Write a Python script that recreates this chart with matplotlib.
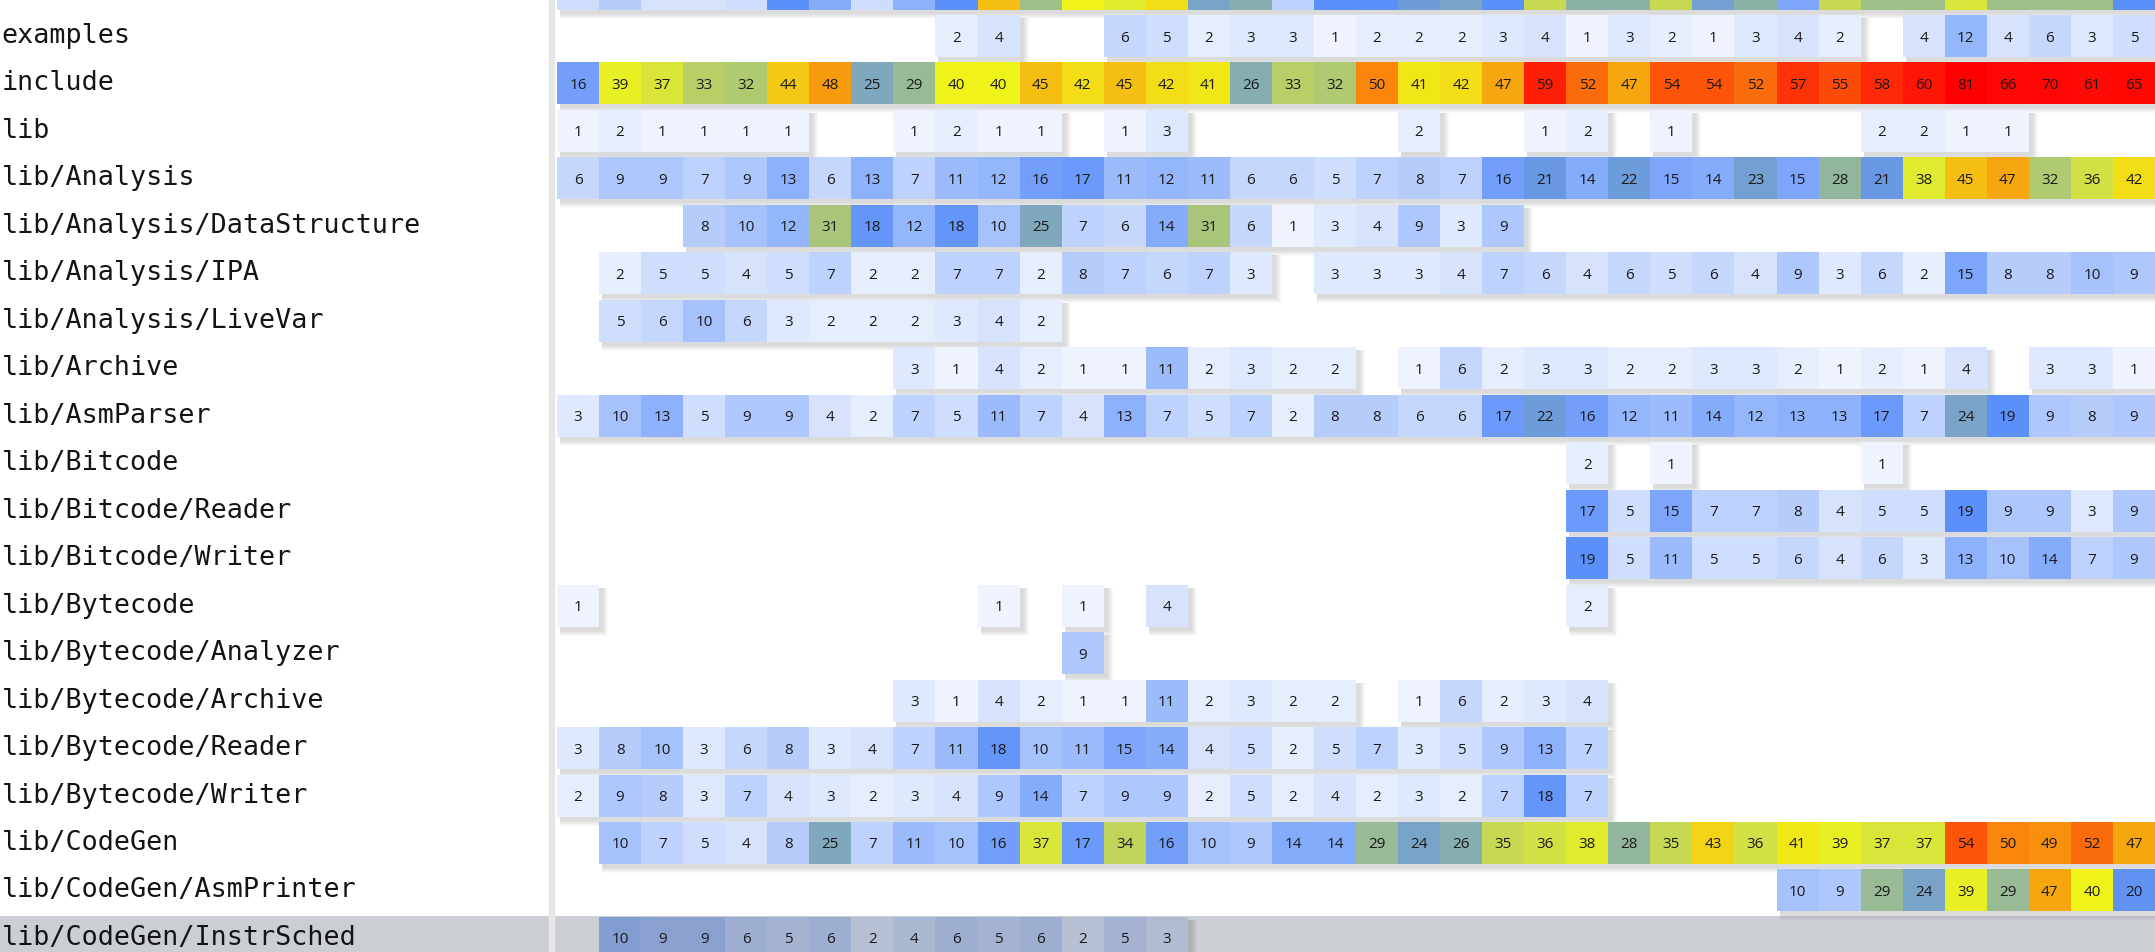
import matplotlib
matplotlib.use('Agg')
import matplotlib.pyplot as plt
from matplotlib.colors import LinearSegmentedColormap, Normalize, to_rgb

N = None

# row names, top to bottom
dirs = ['examples', 'include', 'lib', 'lib/Analysis',
        'lib/Analysis/DataStructure', 'lib/Analysis/IPA',
        'lib/Analysis/LiveVar', 'lib/Archive', 'lib/AsmParser',
        'lib/Bitcode', 'lib/Bitcode/Reader', 'lib/Bitcode/Writer',
        'lib/Bytecode', 'lib/Bytecode/Analyzer', 'lib/Bytecode/Archive',
        'lib/Bytecode/Reader', 'lib/Bytecode/Writer', 'lib/CodeGen',
        'lib/CodeGen/AsmPrinter', 'lib/CodeGen/InstrSched']

# row above "examples": only its lower edge is in view, values guessed from colour
top_cut = [5, 8, 4, 4, 5, 19, 14, 5, 13, 19, 45, 30, 40, 38, 42, 24, 26, 7, 19,
           19, 22, 24, 19, 35, 27, 27, 35, 23, 27, 15, 35, 30, 30, 37, 30, 30, 30, 19]

examples = [N] * 9 + [2, 4, N, N, 6, 5, 2, 3, 3, 1, 2, 2, 2, 3, 4, 1, 3, 2, 1, 3,
                      4, 2, N, 4, 12, 4, 6, 3, 5]
include = [16, 39, 37, 33, 32, 44, 48, 25, 29, 40, 40, 45, 42, 45, 42, 41, 26, 33, 32,
           50, 41, 42, 47, 59, 52, 47, 54, 54, 52, 57, 55, 58, 60, 81, 66, 70, 61, 65]
lib = [1, 2, 1, 1, 1, 1, N, N, 1, 2, 1, 1, N, 1, 3, N, N, N, N,
       N, 2, N, N, 1, 2, N, 1, N, N, N, N, 2, 2, 1, 1, N, N, N]
lib_analysis = [6, 9, 9, 7, 9, 13, 6, 13, 7, 11, 12, 16, 17, 11, 12, 11, 6, 6, 5,
                7, 8, 7, 16, 21, 14, 22, 15, 14, 23, 15, 28, 21, 38, 45, 47, 32, 36, 42]
lib_analysis_ds = [N] * 3 + [8, 10, 12, 31, 18, 12, 18, 10, 25, 7, 6, 14, 31, 6, 1, 3,
                             4, 9, 3, 9] + [N] * 15
lib_analysis_ipa = [N, 2, 5, 5, 4, 5, 7, 2, 2, 7, 7, 2, 8, 7, 6, 7, 3, N, 3,
                    3, 3, 4, 7, 6, 4, 6, 5, 6, 4, 9, 3, 6, 2, 15, 8, 8, 10, 9]
lib_analysis_livevar = [N] + [5, 6, 10, 6, 3, 2, 2, 2, 3, 4, 2] + [N] * 26
lib_archive = [N] * 8 + [3, 1, 4, 2, 1, 1, 11, 2, 3, 2, 2, N, 1, 6, 2, 3, 3, 2, 2,
                         3, 3, 2, 1, 2, 1, 4, N, 3, 3, 1]
lib_asmparser = [3, 10, 13, 5, 9, 9, 4, 2, 7, 5, 11, 7, 4, 13, 7, 5, 7, 2, 8,
                 8, 6, 6, 17, 22, 16, 12, 11, 14, 12, 13, 13, 17, 7, 24, 19, 9, 8, 9]
lib_bitcode = [N] * 24 + [2, N, 1, N, N, N, N, 1] + [N] * 6
lib_bitcode_reader = [N] * 24 + [17, 5, 15, 7, 7, 8, 4, 5, 5, 19, 9, 9, 3, 9]
lib_bitcode_writer = [N] * 24 + [19, 5, 11, 5, 5, 6, 4, 6, 3, 13, 10, 14, 7, 9]
lib_bytecode = [1] + [N] * 9 + [1, N, 1, N, 4] + [N] * 9 + [2] + [N] * 13
lib_bytecode_analyzer = [N] * 12 + [9] + [N] * 25
lib_bytecode_archive = [N] * 8 + [3, 1, 4, 2, 1, 1, 11, 2, 3, 2, 2, N,
                                  1, 6, 2, 3, 4] + [N] * 13
lib_bytecode_reader = [3, 8, 10, 3, 6, 8, 3, 4, 7, 11, 18, 10, 11, 15, 14, 4, 5, 2, 5,
                       7, 3, 5, 9, 13, 7] + [N] * 13
lib_bytecode_writer = [2, 9, 8, 3, 7, 4, 3, 2, 3, 4, 9, 14, 7, 9, 9, 2, 5, 2, 4,
                       2, 3, 2, 7, 18, 7] + [N] * 13
lib_codegen = [N, 10, 7, 5, 4, 8, 25, 7, 11, 10, 16, 37, 17, 34, 16, 10, 9, 14, 14,
               29, 24, 26, 35, 36, 38, 28, 35, 43, 36, 41, 39, 37, 37, 54, 50, 49, 52, 47]
lib_codegen_asmprinter = [N] * 29 + [10, 9, 29, 24, 39, 29, 47, 40, 20]
lib_codegen_instrsched = [N] + [10, 9, 9, 6, 5, 6, 2, 4, 6, 5, 6, 2, 5, 3] + [N] * 23

rows = [examples, include, lib, lib_analysis, lib_analysis_ds, lib_analysis_ipa,
        lib_analysis_livevar, lib_archive, lib_asmparser, lib_bitcode,
        lib_bitcode_reader, lib_bitcode_writer, lib_bytecode, lib_bytecode_analyzer,
        lib_bytecode_archive, lib_bytecode_reader, lib_bytecode_writer, lib_codegen,
        lib_codegen_asmprinter, lib_codegen_instrsched]
hovered = 'lib/CodeGen/InstrSched'
n_cols = len(include)

# colour ramp: pale blue -> blue -> green -> yellow -> orange -> red
stops = [(1, '#eef3fe'), (19, '#5b8ff9'), (29, '#98ba93'), (40, '#f0f419'),
         (47, '#f6a80f'), (54, '#fc5509'), (61, '#ff0a05'), (81, '#ff0000')]
norm = Normalize(stops[0][0], stops[-1][0])
cmap = LinearSegmentedColormap.from_list(
    'churn', [(norm(v), c) for v, c in stops])
hover_grey = to_rgb('#cbced3')

W, H = 2155, 952
pitch = 47.47          # px per row
first = 36             # px, centre of the first named row
cell_h = 42 / pitch
y_lim = ((H - first) / pitch, -first / pitch)

fig = plt.figure(figsize=(W / 100, H / 100), dpi=100)
lab_ax = fig.add_axes([0, 0, 549 / W, 1])
heat_ax = fig.add_axes([555 / W, 0, 1 - 555 / W, 1])
cw = (W - 557) / n_cols
heat_ax.set_xlim(-2 / cw, n_cols)
lab_ax.set_xlim(0, 1)
for ax in (lab_ax, heat_ax):
    ax.set_ylim(*y_lim)
    ax.axis('off')

# separator between names and cells
fig.add_artist(plt.Rectangle((549 / W, 0), 5 / W, 1, transform=fig.transFigure,
                             color='#e6e6e6', zorder=5))

px_x = 1 / cw
px_y = 1 / pitch


def runs(vals):
    out, start = [], None
    for i, v in enumerate(list(vals) + [None]):
        if v is not None and start is None:
            start = i
        elif v is None and start is not None:
            out.append((start, i))
            start = None
    return out


def draw_row(r, vals, hover=False, labels=True):
    top = r - cell_h / 2
    # soft drop shadow to the right and below each run of cells
    for c0, c1 in runs(vals):
        for k in range(1, 7):
            heat_ax.bar(c0 + 3 * px_x, cell_h + k * px_y,
                        bottom=top + 3 * px_y,
                        width=(c1 - c0) + k * px_x, align='edge',
                        color='black', alpha=0.022, linewidth=0, zorder=2)
    cols = [c for c, v in enumerate(vals) if v is not None]
    nums = [v for v in vals if v is not None]
    colors = []
    for v in nums:
        rgb = cmap(norm(v))[:3]
        if hover:
            rgb = tuple(a * b for a, b in zip(rgb, hover_grey))
        colors.append(rgb)
    heat_ax.bar(cols, cell_h, bottom=top, width=1, align='edge', color=colors,
                linewidth=0, zorder=3)
    if labels:
        for c, v in zip(cols, nums):
            heat_ax.text(c + 0.5, r, str(v), ha='center', va='center_baseline',
                         fontsize=11, color='#1a1a1a', zorder=4,
                         family=['Open Sans', 'DejaVu Sans'])


draw_row(-1, top_cut, labels=False)
for r, (name, vals) in enumerate(zip(dirs, rows)):
    hover = name == hovered
    if hover:
        for ax in (lab_ax, heat_ax):
            ax.axhspan(r - cell_h / 2 - 0.01, y_lim[0], color=hover_grey,
                       linewidth=0, zorder=1)
    draw_row(r, vals, hover=hover)
    lab_ax.text(0.003, r, name, ha='left', va='center', fontsize=19.3,
                family='DejaVu Sans Mono', color='#141414', zorder=4)

fig.savefig('out.png', dpi=100, facecolor='white')
